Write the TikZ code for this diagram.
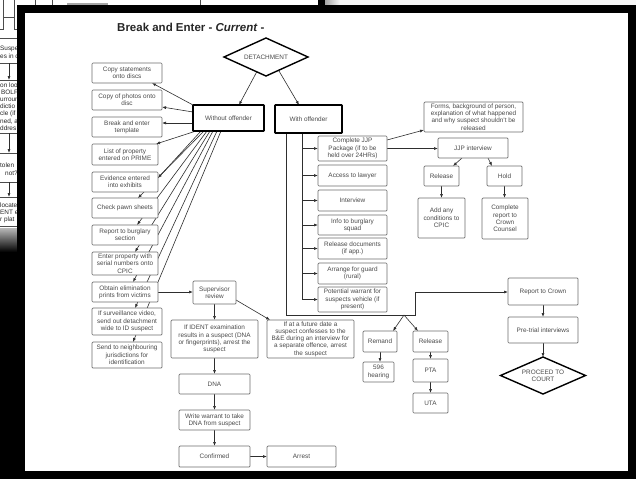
\documentclass[tikz,border=0pt]{standalone}
\usepackage{fontspec}
\setmainfont{Liberation Sans}
\usetikzlibrary{arrows.meta,shapes.geometric,calc}
\pgfdeclarelayer{frame}
\pgfdeclarelayer{background}
\pgfsetlayers{frame,background,main}
\definecolor{txt}{HTML}{4A4A4A}
\definecolor{bord}{HTML}{6E6E6E}
\definecolor{ln}{HTML}{2E2E2E}
\tikzset{
 box/.style={draw=bord, line width=0.7pt, rounded corners=1pt, fill=white, text=txt, align=center,
   font=\fontsize{6.4}{7.3}\selectfont, inner sep=0.5pt, outer sep=0pt},
 thickbox/.style={draw=black, line width=1.6pt, rounded corners=0.5pt},
 dia/.style={diamond, draw=black, line width=1.4pt, fill=white, text=txt, align=center,
   font=\fontsize{6.4}{7.3}\selectfont, inner sep=0pt, outer sep=0pt, aspect=2.2},
 conn/.style={draw=ln, line width=0.6pt, -{Latex[length=4pt,width=3pt]}},
 plain/.style={draw=ln, line width=0.6pt},
 frag/.style={font=\fontsize{6.4}{7.3}\selectfont, text=black!85, inner sep=0pt, anchor=base west},
 fragline/.style={draw=black!70, line width=0.6pt},
}
% \bx[opts]{name}{x1}{x2}{y1}{y2}{text}
\newcommand\bx[7][]{\node[box,#1,minimum width={#4-#3},minimum height={#6-#5}] (#2) at ({(#3+#4)/2},{(#5+#6)/2}) {#7};}
\begin{document}
\begin{tikzpicture}[x=1pt,y=-1pt]
\useasboundingbox (0,0) rectangle (636,479);

% ---------- frame and background photo ----------
\begin{pgfonlayer}{frame}
\fill[black] (0,0) rectangle (636,479);
\fill[white] (0,0) rectangle (318,5);
\fill[white] (0,0) rectangle (17,228);
\shade[top color=gray!55, bottom color=black] (0,228) rectangle (17,252);
\fill[white!94!gray] (325,0) rectangle (636,5);
\shade[left color=gray!70, right color=white!94!gray] (325,0) rectangle (340,5);
\begin{scope}
\clip (0,0) rectangle (17,228) (17,0) rectangle (318,5);
\draw[fragline] (3,-2) -- (3,29) -- (-4,29);
\draw[fragline] (3,17) -- (14,17);
\draw[fragline] (14,-2) -- (14,29) -- (30,29);
\draw[fragline] (35,-2) -- (35,5);
\draw[fragline] (52,-2) -- (52,5);
\draw[draw=gray!70, line width=1.5pt] (67,4) -- (108,4);
\draw[fragline] (200,-2) -- (200,5);
\draw[fragline] (-4,38) -- (30,38);
\node[frag] at (0,50) {Suspe};
\node[frag] at (0,58.5) {es in c};
\draw[fragline] (-4,63) -- (30,63);
\draw[conn] (9,63) -- (9,80);
\draw[fragline] (-4,80) -- (30,80);
\node[frag] at (0,87) {on loo};
\node[frag] at (1,94.2) {BOLF)};
\node[frag] at (0,101.4) {urroun};
\node[frag] at (0,108.6) {dictio};
\node[frag] at (0,115.8) {cle (if};
\node[frag] at (0,123) {ned, a};
\node[frag] at (0,130.2) {ddres};
\draw[fragline] (-4,133) -- (30,133);
\draw[conn] (9,133) -- (9,153);
\draw[fragline] (-4,153) -- (30,153);
\node[frag] at (0,167) {tolen};
\node[frag] at (5,175) {not?};
\draw[fragline] (-4,182) -- (30,182);
\draw[conn] (9,182) -- (9,197);
\draw[fragline] (-4,197) -- (30,197);
\node[frag] at (0,207) {locate};
\node[frag] at (0,214.3) {ENT e};
\node[frag] at (0,221.6) {r plat};
\draw[fragline] (-4,226.5) -- (30,226.5);
\end{scope}
\fill[black] (17,5) rectangle (636,479);
\fill[black] (318,0) rectangle (325,5);
\fill[white] (25,13) rectangle (628,471);
\end{pgfonlayer}

% ---------- title ----------
\node[anchor=base west, inner sep=0pt, font=\fontsize{11.5}{13}\selectfont\bfseries, text=black!85] (title) at (117,31) {Break and Enter - \textit{Current} -};

% ---------- nodes ----------
\node[dia, minimum width=84, minimum height=38] (det) at (266,57) {DETACHMENT};
\bx[thickbox]{wo}{193}{264}{105}{131}{Without offender}
\bx[thickbox]{wi}{275}{342}{105}{133}{With offender}

\bx{b1}{92}{162}{63}{83}{Copy statements\\onto discs}
\bx{b2}{92}{162}{90}{110}{Copy of photos onto\\disc}
\bx{b3}{92}{162}{117}{137}{Break and enter\\template}
\bx{b4}{92}{158}{144}{165}{List of property\\entered on PRIME}
\bx{b5}{92}{158}{172}{192}{Evidence entered\\into exhibits}
\bx{b6}{92}{158}{198}{218}{Check pawn sheets}
\bx{b7}{92}{158}{225}{245}{Report to burglary\\section}
\bx{b8}{92}{158}{252}{275}{Enter property with\\serial numbers onto\\CPIC}
\bx{b9}{92}{158}{282}{302}{Obtain elimination\\prints from victims}
\bx{b10}{92}{162}{308}{335}{If surveillance video,\\send out detachment\\wide to ID suspect}
\bx{b11}{92}{162}{342}{368}{Send to neighbouring\\jurisdictions for\\identification}

\bx{sup}{193}{236}{281}{304}{Supervisor\\review}
\bx{ident}{171}{258}{320}{358}{If IDENT examination\\results in a suspect (DNA\\or fingerprints), arrest the\\suspect}
\bx{fut}{267}{354}{320}{358}{If at a future date a\\suspect confesses to the\\B\&E during an interview for\\a separate offence, arrest\\the suspect}
\bx{dna}{179}{250}{374}{394}{DNA}
\bx{wr}{179}{250}{410}{430}{Write warrant to take\\DNA from suspect}
\bx{conf}{179}{250}{446}{467}{Confirmed}
\bx{arr}{267}{336}{446}{467}{Arrest}

\bx{a}{318}{387}{136}{161}{Complete JJP\\Package (if to be\\held over 24HRs)}
\bx{b}{318}{387}{165}{186}{Access to lawyer}
\bx{c}{318}{387}{190}{211}{Interview}
\bx{d}{318}{387}{215}{235}{Info to burglary\\squad}
\bx{e}{318}{387}{238}{259}{Release documents\\(if app.)}
\bx{f}{318}{387}{263}{284}{Arrange for guard\\(rural)}
\bx{g}{318}{387}{287}{312}{Potential warrant for\\suspects vehicle (if\\present)}

\bx{forms}{424}{523}{102}{132}{Forms, background of person,\\explanation of what happened\\and why suspect shouldn't be\\released}
\bx{jjp}{438}{508}{138}{158}{JJP interview}
\bx{rel1}{424}{459}{166}{186}{Release}
\bx{hold}{487}{522}{166}{186}{Hold}
\bx{add}{418}{465}{198}{238}{Add any\\conditions to\\CPIC}
\bx{crc}{482}{528}{198}{239}{Complete\\report to\\Crown\\Counsel}

\bx{rc}{508}{578}{278}{305}{Report to Crown}
\bx{pt}{508}{578}{317}{343}{Pre-trial interviews}
\node[dia, minimum width=85, minimum height=37] (court) at (543,375.5) {PROCEED TO\\COURT};

\bx{rem}{363}{397}{331}{352}{Remand}
\bx{rel2}{413}{448}{331}{352}{Release}
\bx{h596}{363}{394}{362}{382}{596\\hearing}
\bx{pta}{413}{448}{359}{382}{PTA}
\bx{uta}{413}{448}{393}{413}{UTA}

\coordinate (w1) at ($(wi.south west)+(11,0)$);
\coordinate (w2) at ($(wi.south west)+(27,0)$);
\coordinate (cBL) at (286,315);
\coordinate (cBR) at (415,315);
\coordinate (cTR) at (415,292);
\coordinate (split) at (404,315);

% ---------- connectors ----------
\begin{pgfonlayer}{background}
\draw[conn] ($(det.west)!0.78!(det.south)$) -- ($(wo.north)+(10.5,0)$);
\draw[conn] ($(det.east)!0.7!(det.south)$) -- ($(wi.north)+(-9.5,0)$);

\draw[conn] (wo.north west) -- ($(b1.south east)+(-10,0)$);
\draw[conn] ($(wo.west)+(0,-6)$) -- ($(b2.east)+(0,7)$);
\draw[conn] ($(wo.west)+(0,5)$) -- ($(b3.east)+(0,-4)$);
\draw[conn] ($(wo.south west)+(3,0)$) -- ($(b4.north east)+(-2,0)$);
\draw[conn] ($(wo.south west)+(8,0)$) -- ($(b5.east)+(0,-4)$);
\draw[conn] ($(wo.south west)+(11,0)$) -- ($(b6.north)+(13,0)$);
\draw[conn] ($(wo.south west)+(14,0)$) -- ($(b7.north)+(12,0)$);
\draw[conn] ($(wo.south west)+(17,0)$) -- ($(b8.north)+(10,0)$);
\draw[conn] ($(wo.south west)+(20,0)$) -- ($(b9.north)+(8,0)$);
\draw[conn] ($(wo.south west)+(24,0)$) -- ($(b10.north)+(8,0)$);
\draw[conn] ($(wo.south west)+(28,0)$) -- ($(b11.north)+(6,0)$);

\draw[conn] (b9.east) -- (b9.east -| sup.west);
\draw[conn] (sup.south) -- (ident.north);
\draw[conn] ($(sup.south east)+(0,-4)$) -- ($(fut.north west)+(3,0)$);
\draw[conn] (ident.south) -- (dna.north);
\draw[conn] (dna.south) -- (wr.north);
\draw[conn] (wr.south) -- (conf.north);
\draw[conn] (conf.east) -- (arr.west);

\draw[plain] (w2) -- (w2 |- g.west);
\foreach \n in {a,b,c,d,e,f,g}{\draw[conn] (w2 |- \n.west) -- (\n.west);}
\draw[conn] (w1) -- (cBL) -- (cBR) -- (cTR) -- (cTR -| rc.west);
\draw[conn] (split) -- ($(rem.north)+(13,0)$);
\draw[conn] (split) -- ($(rel2.north)+(-12.5,0)$);

\draw[conn] ($(a.north east)+(0,4)$) -- ($(forms.west)+(0,13)$);
\draw[conn] (a.east) -- (a.east -| jjp.west);
\draw[conn] ($(jjp.south)+(-11,0)$) -- ($(rel1.north)+(11.5,0)$);
\draw[conn] ($(jjp.south)+(15,0)$) -- ($(hold.north)+(-12.5,0)$);
\draw[conn] (rel1.south) -- (add.north);
\draw[conn] (hold.south) -- (hold.south |- crc.north);
\draw[conn] (rc.south) -- (pt.north);
\draw[conn] (pt.south) -- (court.north);
\draw[conn] (rem.south) -- (rem.south |- h596.north);
\draw[conn] (rel2.south) -- (pta.north);
\draw[conn] (pta.south) -- (uta.north);
\end{pgfonlayer}
\end{tikzpicture}
\end{document}
